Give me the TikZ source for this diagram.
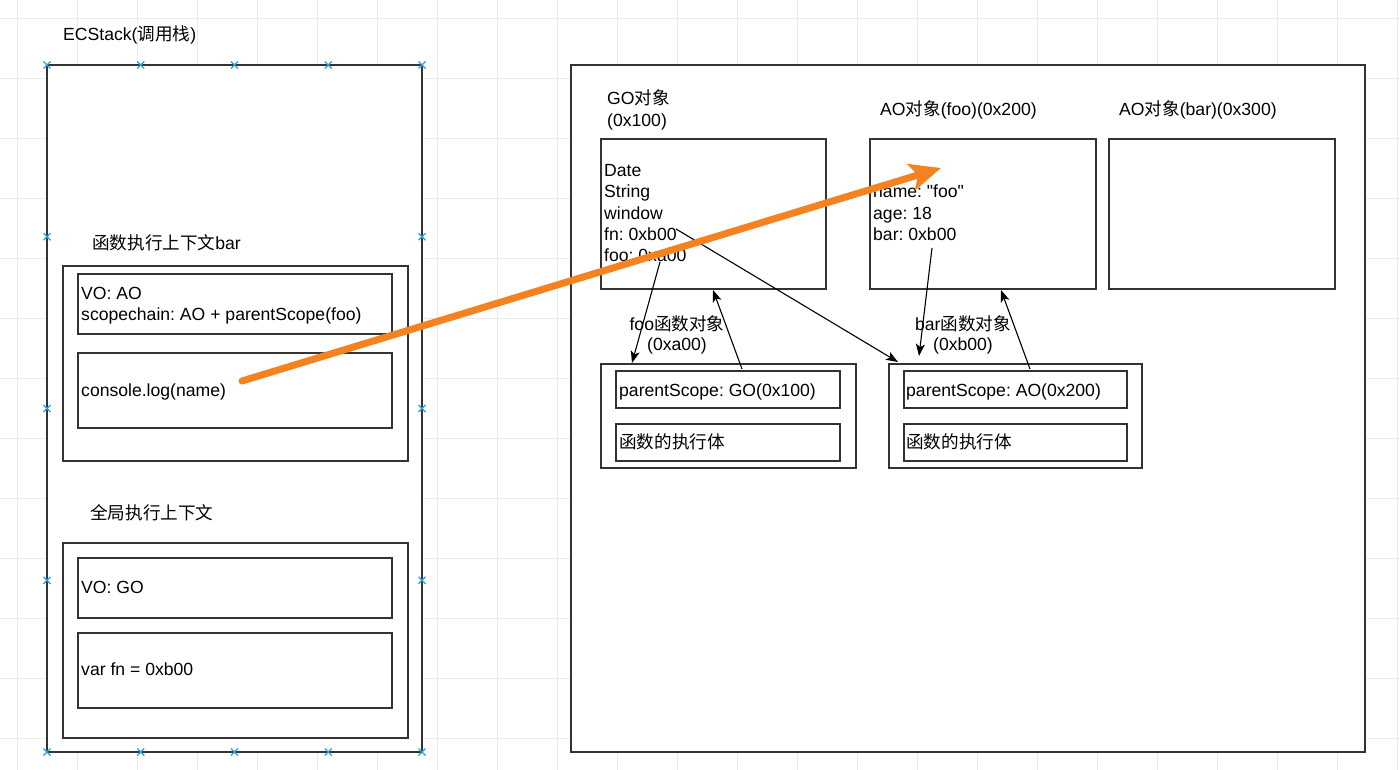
\documentclass[tikz,border=0pt]{standalone}
\usepackage{fontspec}
\setmainfont{Liberation Sans}
\newfontfamily\cjk{Noto Sans CJK SC}
\newfontfamily\rawquote{Liberation Sans}[Ligatures=TeXOff]
\usetikzlibrary{arrows.meta}
\definecolor{edgec}{RGB}{51,51,51}
\definecolor{orangec}{RGB}{245,130,32}
\definecolor{handlec}{RGB}{40,160,225}
\definecolor{gridc}{RGB}{234,234,234}
\newcommand{\lines}[1]{\begin{tabular}[t]{@{}l@{}}#1\end{tabular}}
\newcommand{\clines}[1]{\begin{tabular}[t]{@{}c@{}}#1\end{tabular}}
\newcommand{\sq}{{\rawquote\char"22\relax}}
\frenchspacing
\begin{document}
\begin{tikzpicture}[x=1pt,y=-1pt,
  box/.style={draw=edgec,line width=1.6pt,fill=white,inner sep=0pt},
  txt/.style={inner sep=0pt,anchor=base west,font=\frenchspacing\fontsize{17.6}{21.3}\selectfont},
  ctxt/.style={inner sep=0pt,anchor=base,font=\frenchspacing\fontsize{17.6}{20.5}\selectfont},
  ptr/.style={draw=black,line width=1.1pt,-{Stealth[length=12pt,width=9pt,inset=3pt]}},
  bigptr/.style={draw=orangec,line width=7pt,line cap=round,-{Stealth[length=31pt,width=27pt,inset=7pt]}},
  gridline/.style={draw=gridc,line width=0.8pt},
  handlemark/.style={draw=handlec,line width=1.3pt}
]
\useasboundingbox (0,0) rectangle (1400,770);
\fill[white] (0,0) rectangle (1400,770);
% background grid
\foreach \x in {17,77,...,1397} \draw[gridline] (\x,0) -- (\x,770);
\foreach \y in {18,78,...,738} \draw[gridline] (0,\y) -- (1400,\y);

% call stack
\node[box,minimum width=375pt,minimum height=687pt] (ecs) at (234.5,408.5) {};
\node[txt] (ecslabel) at (63,40.5) {ECStack({\cjk 调用栈})};

\node[box,minimum width=345pt,minimum height=195pt] (barctx) at (235.5,363.5) {};
\node[box,minimum width=314pt,minimum height=60pt] (barvo) at (235,304) {};
\node[box,minimum width=314pt,minimum height=75pt] (barcode) at (235,390.5) {};
\node[txt] (barlabel) at (92,249) {{\cjk 函数执行上下文}bar};
\node[txt] (barvotext) at (81,299) {\lines{VO: AO\\scopechain: AO + parentScope(foo)}};
\node[txt] (barcodetext) at (81,396.5) {console.log(name)};

\node[box,minimum width=345pt,minimum height=195pt] (glob) at (235.5,640.5) {};
\node[box,minimum width=314pt,minimum height=60pt] (globvo) at (235,588) {};
\node[box,minimum width=314pt,minimum height=75pt] (globcode) at (235,670.5) {};
\node[txt] (globlabel) at (90,519) {{\cjk 全局执行上下文}};
\node[txt] (globvotext) at (81,593) {VO: GO};
\node[txt] (globcodetext) at (81,675) {var fn = 0xb00};

% heap
\node[box,minimum width=794pt,minimum height=687pt] (heap) at (968,408.5) {};
\node[box,minimum width=225pt,minimum height=150pt] (go) at (713.5,214) {};
\node[box,minimum width=226pt,minimum height=150pt] (aofoo) at (983,214) {};
\node[box,minimum width=226pt,minimum height=150pt] (aobar) at (1222,214) {};
\node[txt] (golabel) at (607,105) {\lines{GO{\cjk 对象}\\(0x100)}};
\node[txt] (aofoolabel) at (880,116) {AO{\cjk 对象}(foo)(0x200)};
\node[txt] (aobarlabel) at (1119,116) {AO{\cjk 对象}(bar)(0x300)};
\node[txt] (gotext) at (604,176.7) {\lines{Date\\String\\window\\fn: 0xb00\\foo: 0xa00}};
\node[txt] (aofootext) at (873,198) {\lines{name: \sq foo\sq\\age: 18\\bar: 0xb00}};

\node[box,minimum width=255pt,minimum height=104pt] (fooobj) at (728.5,416) {};
\node[box,minimum width=224pt,minimum height=37pt] (fooscope) at (728,389.5) {};
\node[box,minimum width=224pt,minimum height=37pt] (foobody) at (728,442.5) {};
\node[txt] (fooscopetext) at (619,396) {parentScope: GO(0x100)};
\node[txt] (foobodytext) at (619,448) {{\cjk 函数的执行体}};
\node[ctxt] (fooobjlabel) at (677,330) {\clines{foo{\cjk 函数对象}\\(0xa00)}};

\node[box,minimum width=253pt,minimum height=104pt] (barobj) at (1015.5,416) {};
\node[box,minimum width=223pt,minimum height=37pt] (barscope) at (1015.5,389.5) {};
\node[box,minimum width=223pt,minimum height=37pt] (barbody) at (1015.5,442.5) {};
\node[txt] (barscopetext) at (906,396) {parentScope: AO(0x200)};
\node[txt] (barbodytext) at (906,448) {{\cjk 函数的执行体}};
\node[ctxt] (barobjlabel) at (963,330) {\clines{bar{\cjk 函数对象}\\(0xb00)}};

% connector end points
\coordinate (fooref) at (660,262);
\coordinate (fooobjtop) at (632,363);
\coordinate (fooparent) at (742,369);
\coordinate (gobottom) at (713,290);
\coordinate (fnref) at (676,229);
\coordinate (barobjtop) at (898,362);
\coordinate (barref) at (932,248);
\coordinate (barobjin) at (919,356);
\coordinate (barparent) at (1030,369);
\coordinate (aofoobottom) at (1001,290);
\coordinate (logcall) at (242,381);
\coordinate (aofootarget) at (941,168);

\draw[ptr] (fooref) -- (fooobjtop);
\draw[ptr] (fooparent) -- (gobottom);
\draw[ptr] (fnref) -- (barobjtop);
\draw[ptr] (barref) -- (barobjin);
\draw[ptr] (barparent) -- (aofoobottom);
\draw[bigptr] (logcall) -- (aofootarget);

% selection handles
\foreach \x in {47,140.75,234.5,328.25,422}
  \foreach \y in {65,752}
    \draw[handlemark] (\x-3.5,\y-3.5) -- (\x+3.5,\y+3.5) (\x-3.5,\y+3.5) -- (\x+3.5,\y-3.5);
\foreach \x in {47,422}
  \foreach \y in {236.75,408.5,580.25}
    \draw[handlemark] (\x-3.5,\y-3.5) -- (\x+3.5,\y+3.5) (\x-3.5,\y+3.5) -- (\x+3.5,\y-3.5);
\end{tikzpicture}
\end{document}
